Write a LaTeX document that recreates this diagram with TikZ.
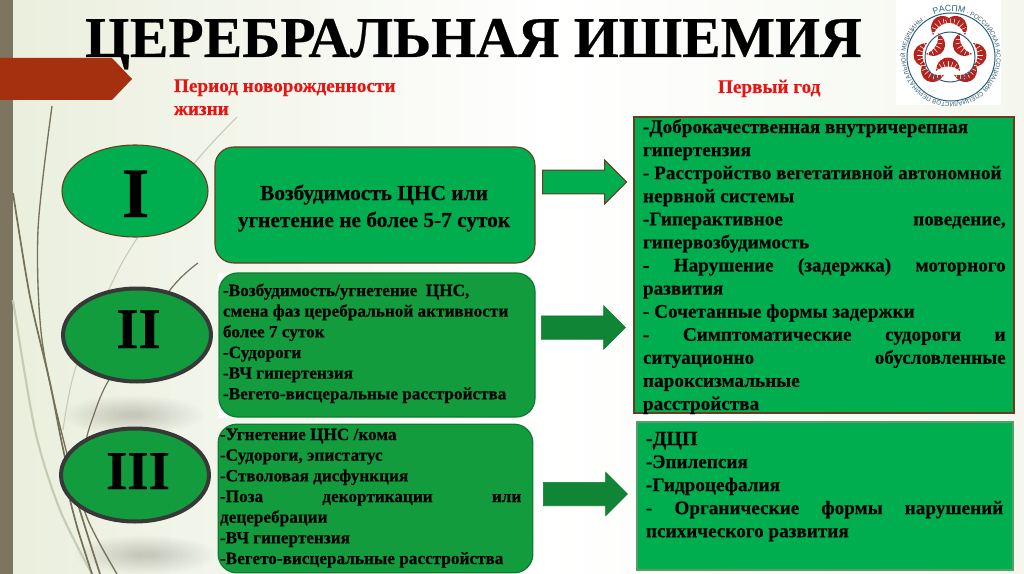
\documentclass[tikz,border=0pt]{standalone}
\usepackage{fontspec}
\setmainfont{Liberation Serif}[BoldFeatures={FakeBold=0.4}]
\setsansfont{Liberation Sans}
\usetikzlibrary{shapes.geometric,shapes.arrows,decorations.text,calc}
\definecolor{bgl}{HTML}{E2E8CF}
\definecolor{bgm}{HTML}{FFFFFF}
\definecolor{bgr}{HTML}{DCE5C6}
\definecolor{barc}{HTML}{7D7560}
\definecolor{redarrow}{HTML}{A5300F}
\definecolor{brightgreen}{HTML}{00AE50}
\definecolor{darkgreen}{HTML}{129C3E}
\definecolor{edgegreen}{HTML}{0E7A32}
\definecolor{brownedge}{HTML}{6A3A22}
\definecolor{headred}{HTML}{E81414}
\definecolor{grass}{HTML}{77715A}
\definecolor{lgrass}{HTML}{C6CBB4}
\definecolor{logored}{HTML}{B5231C}
\definecolor{logoblue}{HTML}{2F5F7A}
\pgfdeclarehorizontalshading{bgshade}{100bp}{color(0bp)=(bgl); color(22bp)=(bgm!20!bgl); color(52bp)=(bgm); color(75bp)=(bgm!70!bgr); color(100bp)=(bgr)}
\newcommand{\myfs}[2]{\fontsize{#1pt}{#2pt}\selectfont}
\newcommand{\mytp}{\rule{0pt}{1em}}
\newcommand{\myjst}[2]{\makebox[#1pt][s]{#2}}
\newcommand{\logofan}[3]{%
  \begin{scope}[shift={(#1,#2)},rotate=#3,x=.75pt,y=.75pt]
    \fill[logored] (-12,-7) .. controls (-11,11) and (11,11) .. (12,-7) .. controls (5,-1) and (-5,-1) .. cycle;
    \foreach \a in {-56,-37,-19,0,19,37,56}{\draw[white,line width=.4pt] ($(0,-12)+(\a+90:7)$) -- ($(0,-12)+(\a+90:15)$);}
  \end{scope}}
\tikzset{
  oval1/.style={ellipse,draw=brownedge,fill=brightgreen,line width=.8pt,inner sep=0pt,minimum width=109.5pt,minimum height=69pt},
  oval2/.style={ellipse,draw=black!78,fill=darkgreen,line width=3pt,inner sep=0pt,minimum width=111pt,minimum height=69.75pt},
  rbox/.style={rectangle,rounded corners=14pt,inner sep=0pt},
  sqbox/.style={rectangle,inner sep=0pt},
  blockarrow/.style={single arrow,anchor=tail,inner sep=0pt,minimum height=63pt,single arrow head extend=7.5pt,single arrow head indent=0pt,single arrow tip angle=90},
  txt/.style={inner sep=0pt,outer sep=0pt,font=\bfseries,text=black},
  head/.style={inner sep=0pt,outer sep=0pt,font=\bfseries\myfs{14.4}{17},text=headred},
  para/.style={inner sep=0pt,outer sep=0pt,anchor=north west,align=left,text=black}
}
\begin{document}
\begin{tikzpicture}[x=.75pt,y=-.75pt]
\useasboundingbox (0,0) rectangle (1024,574);
\shade[shading=bgshade] (0,0) rectangle (1024,574);
\fill[barc] (0,0) rectangle (13,574);
% shadows
\foreach \k in {1,...,14}{
  \fill[black,opacity=.012] (133,415) ellipse [x radius={6+4.6*\k},y radius={1.5+1.3*\k}];
  \fill[black,opacity=.012] (145,555) ellipse [x radius={6+4.6*\k},y radius={1.5+1.3*\k}];
}
% grass
\draw[lgrass,line width=1.6pt] plot[smooth] coordinates {(13,300) (35,430) (60,510) (92,574)};
\draw[lgrass,line width=.8pt] plot[smooth] coordinates {(237,117) (197,160) (138,237) (110,287) (75,370) (63,430)};
\draw[grass,line width=1.3pt] plot[smooth] coordinates {(13,193) (30,297) (50,383) (68,470) (100,574)};
\draw[grass,line width=1pt] plot[smooth] coordinates {(52,106) (38,230) (42,340) (66,450) (88,520) (117,574)};
\draw[grass,line width=.9pt] plot[smooth] coordinates {(198,263) (170,290) (110,378) (92,420) (86,440)};
\draw[grass,line width=1.3pt] plot[smooth] coordinates {(70,500) (78,530) (92,574)};
% red arrow
\fill[redarrow] (0,58) -- (112,58) -- (132,79) -- (112,100) -- (0,100) -- cycle;
% title and headings
\node[txt,anchor=base west,font=\bfseries\myfs{43.3}{50}] (title) at (85,57) {ЦЕРЕБРАЛЬНАЯ ИШЕМИЯ};
\node[head,anchor=base west] (h1a) at (174,92) {Период новорожденности};
\node[head,anchor=base west] (h1b) at (174,115) {жизни};
\node[head,anchor=base west] (h2) at (718,93) {Первый год};
% logo
\fill[white] (896,0) rectangle (1001,105);
\logofan{948}{64}{0}
\logofan{938}{47}{-120}
\logofan{960}{47}{120}
\logofan{940}{23}{30}
\logofan{958}{23}{-30}
\logofan{920}{55}{90}
\logofan{930}{75}{150}
\logofan{980}{55}{-90}
\logofan{968}{75}{-150}
\draw[logoblue,line width=.75pt] (951,57) circle [radius=44];
\draw[logoblue,line width=.75pt] (950,57) circle [radius=25];
\begin{scope}[shift={(951,57)},x=.75pt,y=.75pt]
\path[decorate,decoration={text along path,text align={left indent=0pt},text={|\sffamily\fontsize{6.5pt}{7pt}\selectfont\color{logoblue}|РАСПМ|\sffamily\fontsize{4.6pt}{6pt}\selectfont\color{logoblue}| · РОССИЙСКАЯ АССОЦИАЦИЯ СПЕЦИАЛИСТОВ ПЕРИНАТАЛЬНОЙ МЕДИЦИНЫ ·}}]
  (112:45.5) arc[start angle=112,end angle=-246,radius=45.5];
\end{scope}
% ovals
\node[oval1] (o1) at (135,191) {};
\node[oval2] (o2) at (137,335) {};
\node[oval2] (o3) at (135,475) {};
\node[txt,anchor=base,font=\bfseries\myfs{53}{60}] (n1) at (135.5,217) {I};
\node[txt,anchor=base,font=\bfseries\myfs{43}{50}] (n2) at (138.5,348) {II};
\node[txt,anchor=base,font=\bfseries\myfs{41}{48}] (n3) at (138,489) {III};
% middle boxes
\fill[white] (218,273) rectangle (538,418);
\node[rbox,draw=brownedge,fill=brightgreen,line width=.8pt,minimum width=240pt,minimum height=87pt] (b1) at (375,205) {};
\node[rbox,draw=edgegreen,fill=darkgreen,line width=.9pt,minimum width=237pt,minimum height=108pt] (b2) at (377,345) {};
\node[rbox,draw=edgegreen,fill=darkgreen,line width=.9pt,minimum width=236pt,minimum height=111.5pt] (b3) at (375.5,498.5) {};
\node[txt,anchor=base,font=\bfseries\myfs{16}{20}] (t1a) at (374,200) {Возбудимость ЦНС или};
\node[txt,anchor=base,font=\bfseries\myfs{16}{20}] (t1b) at (374,227) {угнетение не более 5-7 суток};
\node[para,font=\bfseries\myfs{12.9}{15.5}] (t2) at (223,278.8) {\mytp-Возбудимость/угнетение~ ЦНС,\\смена фаз церебральной активности\\более 7 суток\\-Судороги\\-ВЧ гипертензия\\-Вегето-висцеральные расстройства};
\node[para,font=\bfseries\myfs{12.9}{15.5}] (t3) at (220,422.8) {\mytp-Угнетение ЦНС /кома\\-Судороги, эпистатус\\-Стволовая дисфункция\\\myjst{226}{-Поза декортикации или}\\децеребрации\\-ВЧ гипертензия\\-Вегето-висцеральные расстройства};
% arrows
\node[blockarrow,draw=brownedge,fill=brightgreen,line width=.8pt] (a1) at (542,182) {\rule{0pt}{17pt}};
\node[blockarrow,draw=edgegreen,fill=darkgreen!85!black,line width=.5pt] (a2) at (541,327.5) {\rule{0pt}{17pt}};
\node[blockarrow,draw=edgegreen,fill=darkgreen!85!black,line width=.5pt] (a3) at (543,494) {\rule{0pt}{17pt}};
% right boxes
\node[sqbox,draw=brownedge,fill=brightgreen,line width=.9pt,minimum width=285pt,minimum height=222pt] (r1) at (824,265) {};
\node[sqbox,draw=black!25!darkgreen!70!white,fill=brightgreen,line width=.8pt,minimum width=282pt,minimum height=111pt] (r2) at (825,496) {};
\node[para,font=\bfseries\myfs{14.4}{17.31}] (t4) at (643,113.8) {\mytp-Доброкачественная внутричерепная\\гипертензия\\- Расстройство вегетативной автономной\\нервной системы\\\myjst{272}{-Гиперактивное поведение,}\\гипервозбудимость\\\myjst{272}{- Нарушение (задержка) моторного}\\развития\\- Сочетанные формы задержки\\\myjst{272}{- Симптоматические судороги и}\\\myjst{272}{ситуационно обусловленные}\\пароксизмальные\\расстройства};
\node[txt,anchor=base west,font=\bfseries\myfs{15}{20}] (t5) at (646,445) {-ДЦП};
\node[para,font=\bfseries\myfs{14.4}{17.31}] (t6) at (646,448.8) {\mytp-Эпилепсия\\-Гидроцефалия\\\myjst{268}{- Органические формы нарушений}\\психического развития};
\end{tikzpicture}
\end{document}
